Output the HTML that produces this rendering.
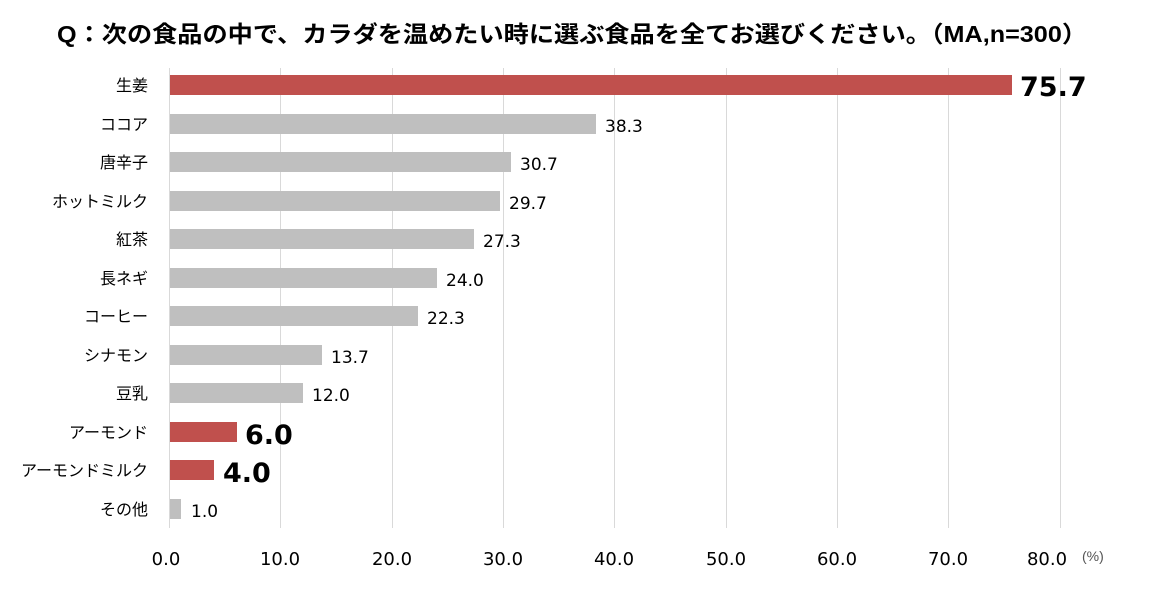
<!DOCTYPE html>
<html><head><meta charset="utf-8"><style>
body{margin:0;background:#fff;}
svg text{font-family:"Liberation Sans","Noto Sans CJK JP",sans-serif;}
svg .n{font-family:"DejaVu Sans",sans-serif;}
</style></head><body>
<svg width="1152" height="604" xmlns="http://www.w3.org/2000/svg">
<text x="572" y="42" text-anchor="middle" font-size="23" font-weight="bold" fill="#000" textLength="1030" lengthAdjust="spacingAndGlyphs">Q：次の食品の中で、カラダを温めたい時に選ぶ食品を全てお選びください。（MA,n=300）</text>
<g stroke="#d9d9d9" stroke-width="1">
<line x1="169.5" y1="68" x2="169.5" y2="528"/>
<line x1="280.5" y1="68" x2="280.5" y2="528"/>
<line x1="392.5" y1="68" x2="392.5" y2="528"/>
<line x1="503.5" y1="68" x2="503.5" y2="528"/>
<line x1="614.5" y1="68" x2="614.5" y2="528"/>
<line x1="726.5" y1="68" x2="726.5" y2="528"/>
<line x1="837.5" y1="68" x2="837.5" y2="528"/>
<line x1="948.5" y1="68" x2="948.5" y2="528"/>
<line x1="1060.5" y1="68" x2="1060.5" y2="528"/>
</g>
<g font-size="18" fill="#000" text-anchor="middle">
<text class="n" x="166" y="565">0.0</text><text class="n" x="280" y="565">10.0</text><text class="n" x="392" y="565">20.0</text><text class="n" x="503" y="565">30.0</text><text class="n" x="614" y="565">40.0</text><text class="n" x="726" y="565">50.0</text><text class="n" x="837" y="565">60.0</text><text class="n" x="948" y="565">70.0</text><text class="n" x="1047" y="565">80.0</text>
</g>
<text x="1082" y="561" font-size="14" fill="#555">(%)</text>
<g font-size="16" fill="#000" text-anchor="end">
<text x="148" y="91">生姜</text>
<text x="148" y="130">ココア</text>
<text x="148" y="168">唐辛子</text>
<text x="148" y="207">ホットミルク</text>
<text x="148" y="245">紅茶</text>
<text x="148" y="284">長ネギ</text>
<text x="148" y="322">コーヒー</text>
<text x="148" y="361">シナモン</text>
<text x="148" y="399">豆乳</text>
<text x="148" y="438">アーモンド</text>
<text x="148" y="476">アーモンドミルク</text>
<text x="148" y="515">その他</text>
</g>
<g>
<rect x="170" y="75" width="842" height="20" fill="#c0504d"/>
<rect x="170" y="114" width="426" height="20" fill="#bfbfbf"/>
<rect x="170" y="152" width="341" height="20" fill="#bfbfbf"/>
<rect x="170" y="191" width="330" height="20" fill="#bfbfbf"/>
<rect x="170" y="229" width="304" height="20" fill="#bfbfbf"/>
<rect x="170" y="268" width="267" height="20" fill="#bfbfbf"/>
<rect x="170" y="306" width="248" height="20" fill="#bfbfbf"/>
<rect x="170" y="345" width="152" height="20" fill="#bfbfbf"/>
<rect x="170" y="383" width="133" height="20" fill="#bfbfbf"/>
<rect x="170" y="422" width="67" height="20" fill="#c0504d"/>
<rect x="170" y="460" width="44" height="20" fill="#c0504d"/>
<rect x="170" y="499" width="11" height="20" fill="#bfbfbf"/>
</g>
<g font-size="17" fill="#000">
<text class="n" x="1020" y="96" font-size="27" font-weight="bold">75.7</text>
<text class="n" x="605" y="132">38.3</text>
<text class="n" x="520" y="170">30.7</text>
<text class="n" x="509" y="209">29.7</text>
<text class="n" x="483" y="247">27.3</text>
<text class="n" x="446" y="286">24.0</text>
<text class="n" x="427" y="324">22.3</text>
<text class="n" x="331" y="363">13.7</text>
<text class="n" x="312" y="401">12.0</text>
<text class="n" x="245" y="444" font-size="27" font-weight="bold">6.0</text>
<text class="n" x="223" y="482" font-size="27" font-weight="bold">4.0</text>
<text class="n" x="191" y="517">1.0</text>
</g>
</svg>
</body></html>
